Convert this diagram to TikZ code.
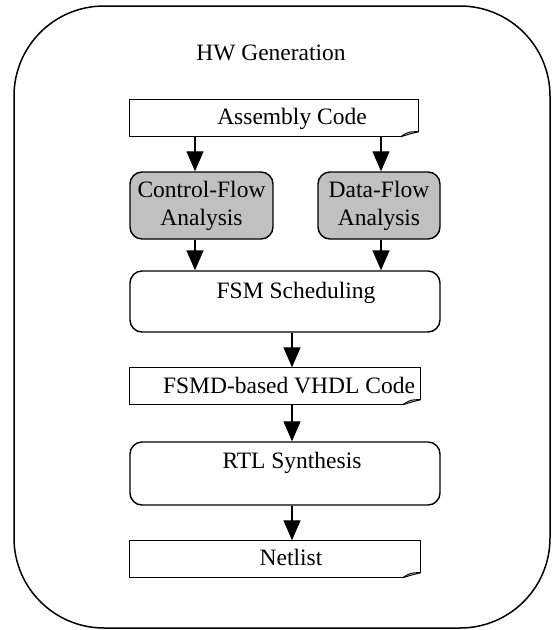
\documentclass[tikz,border=0pt]{standalone}
\usepackage{fontspec}
\setmainfont{Liberation Serif}
\usetikzlibrary{arrows.meta}
\definecolor{boxgray}{RGB}{192,192,192}
\begin{document}
\begin{tikzpicture}[x=1pt,y=-1pt,
  txt/.style={font=\fontsize{23.5}{28}\selectfont, inner sep=0pt, align=center},
  shapebox/.style={inner sep=0pt, line width=1.4pt},
  rbox/.style={shapebox, draw, rounded corners=12pt},
  gbox/.style={rbox, fill=boxgray},
  docbox/.style={shapebox},
  docline/.style={line width=1.4pt, line join=miter},
  arr/.style={line width=1.3pt, -{Triangle[length=20pt,width=17pt]}}]
\useasboundingbox (0,0) rectangle (557,630);
% outer frame
\node[draw, line width=1.5pt, rounded corners=90pt, minimum width=536pt, minimum height=622pt, inner sep=0pt] (frame) at (282,317) {};
\node[txt, anchor=base] (title) at (271,60) {HW Generation};
\coordinate (col) at (292,0);
\coordinate (lcol) at (195,0);
\coordinate (rcol) at (381,0);

% Assembly Code (document shape)
\node[docbox, minimum width=288pt, minimum height=36pt] (asm) at (274,118) {};
\draw[docline] ([xshift=-18pt]asm.south east) -- (asm.south west) -- (asm.north west) -- (asm.north east) -- ([yshift=5pt]asm.south east);
\draw[docline, line width=1pt] ([xshift=-18pt]asm.south east) .. controls ([xshift=-10pt,yshift=5pt]asm.south east) .. ([yshift=5pt]asm.south east);
\draw[docline, line width=1pt] ([xshift=-18pt]asm.south east) -- ([xshift=-8pt,yshift=3pt]asm.south east) -- ([yshift=5pt]asm.south east);
\node[txt, anchor=base] (asmt) at (292,124) {Assembly Code};

% analysis boxes
\node[gbox, minimum width=143pt, minimum height=67pt] (cfa) at (201.5,205.5) {};
\node[txt, anchor=base] (cfat1) at (201.5,197) {Control-Flow};
\node[txt, anchor=base] (cfat2) at (201.5,225) {Analysis};
\node[gbox, minimum width=122pt, minimum height=67pt] (dfa) at (379,205.5) {};
\node[txt, anchor=base] (dfat1) at (379,197) {Data-Flow};
\node[txt, anchor=base] (dfat2) at (379,225) {Analysis};

% FSM scheduling
\node[rbox, minimum width=310pt, minimum height=61pt] (fsm) at (285,301.5) {};
\node[txt, anchor=base] (fsmt) at (296,298) {FSM Scheduling};

% FSMD VHDL code (document shape)
\node[docbox, minimum width=290pt, minimum height=36pt] (vhdl) at (275,386) {};
\draw[docline] ([xshift=-18pt]vhdl.south east) -- (vhdl.south west) -- (vhdl.north west) -- (vhdl.north east) -- ([yshift=5pt]vhdl.south east);
\draw[docline, line width=1pt] ([xshift=-18pt]vhdl.south east) .. controls ([xshift=-10pt,yshift=5pt]vhdl.south east) .. ([yshift=5pt]vhdl.south east);
\draw[docline, line width=1pt] ([xshift=-18pt]vhdl.south east) -- ([xshift=-8pt,yshift=3pt]vhdl.south east) -- ([yshift=5pt]vhdl.south east);
\node[txt, anchor=base] (vhdlt) at (289,393) {FSMD-based VHDL Code};

% RTL synthesis
\node[rbox, minimum width=310pt, minimum height=63pt] (rtl) at (285,473.5) {};
\node[txt, anchor=base] (rtlt) at (292,468) {RTL Synthesis};

% Netlist (document shape)
\node[docbox, minimum width=290pt, minimum height=36pt] (net) at (275,559) {};
\draw[docline] ([xshift=-18pt]net.south east) -- (net.south west) -- (net.north west) -- (net.north east) -- ([yshift=5pt]net.south east);
\draw[docline, line width=1pt] ([xshift=-18pt]net.south east) .. controls ([xshift=-10pt,yshift=5pt]net.south east) .. ([yshift=5pt]net.south east);
\draw[docline, line width=1pt] ([xshift=-18pt]net.south east) -- ([xshift=-8pt,yshift=3pt]net.south east) -- ([yshift=5pt]net.south east);
\node[txt, anchor=base] (nett) at (291,565) {Netlist};

% arrows
\draw[arr] (asm.south -| lcol) -- (cfa.north -| lcol);
\draw[arr] (asm.south -| rcol) -- (dfa.north -| rcol);
\draw[arr] (cfa.south -| lcol) -- (fsm.north -| lcol);
\draw[arr] (dfa.south -| rcol) -- (fsm.north -| rcol);
\draw[arr] (fsm.south -| col) -- (vhdl.north -| col);
\draw[arr] (vhdl.south -| col) -- (rtl.north -| col);
\draw[arr] (rtl.south -| col) -- (net.north -| col);
\end{tikzpicture}
\end{document}
